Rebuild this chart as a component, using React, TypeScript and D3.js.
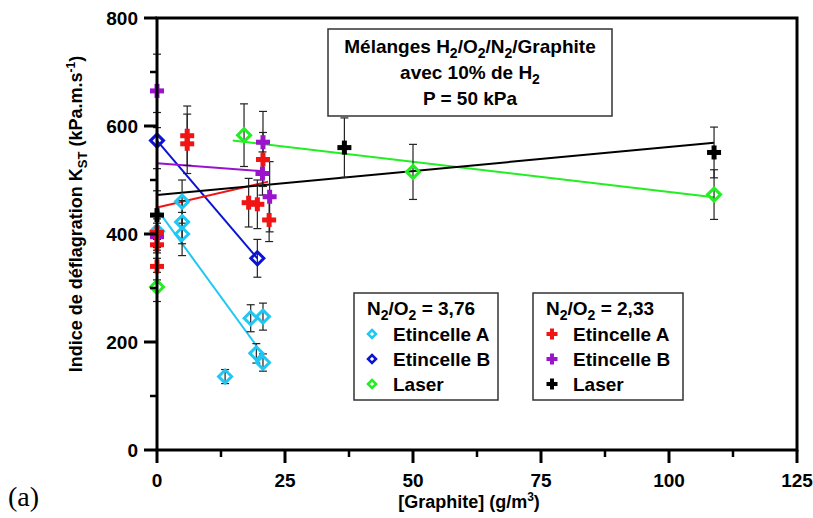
import React from "react";
import * as d3 from "d3";

// ---- Data ----
// N2/O2 = 3.76
const etA376X = [0, 4.9, 4.9, 4.9, 13.3, 18.3, 19.4, 20.7, 20.7];
const etA376Y = [405, 460, 422, 400, 136, 244, 179, 247, 162];
const etA376E = [30, 40, 40, 40, 13, 25, 18, 25, 16];

const etB376X = [0, 19.6];
const etB376Y = [573, 355];
const etB376E = [52, 35];

const las376X = [0, 17.0, 50.0, 108.8];
const las376Y = [302, 583, 515, 473];
const las376E = [27, 58, 51, 46];

// N2/O2 = 2.33
const etA233X = [0, 0, 0, 5.9, 5.9, 17.9, 19.6, 20.7, 21.9];
const etA233Y = [403, 380, 340, 582, 567, 458, 455, 538, 426];
const etA233E = [25, 25, 25, 55, 55, 45, 45, 50, 40];

const etB233X = [0, 0, 20.7, 20.6, 22.0];
const etB233Y = [665, 395, 570, 512, 469];
const etB233E = [68, 25, 57, 40, 65];

const las233X = [0, 36.6, 108.8];
const las233Y = [435, 560, 551];
const las233E = [45, 55, 47];

// linear fits (end points)
const fitEtA376 = [[0, 446], [19.5, 192]];
const fitEtB376 = [[0, 573], [19.6, 355]];
const fitLas376 = [[14.8, 573], [108.8, 468]];
const fitEtA233 = [[0, 449], [21.7, 497]];
const fitEtB233 = [[0, 531], [21, 516]];
const fitLas233 = [[0, 472], [108.8, 569]];

const xTicks = [0, 25, 50, 75, 100, 125];
const xMinor = [12.5, 37.5, 62.5, 87.5, 112.5];
const yTicks = [0, 200, 400, 600, 800];
const yMinor = [100, 300, 500, 700];

const C_CYAN = "#1ec8f5";
const C_BLUE = "#0a14d2";
const C_GREEN = "#22ee22";
const C_RED = "#f01414";
const C_PURPLE = "#9a14cc";
const C_BLACK = "#000000";

const FONT = "'Liberation Sans', Arial, Helvetica, sans-serif";

const W = 813, H = 518;
const L = 157, R = 797, T = 18, B = 450;

const x = d3.scaleLinear().domain([0, 125]).range([L, R]);
const y = d3.scaleLinear().domain([0, 800]).range([B, T]);
const line = d3.line<number[]>().x((d) => x(d[0])).y((d) => y(d[1]));

type Series = { xs: number[]; ys: number[]; es: number[]; color: string; kind: "diamond" | "plus" };

const series: Series[] = [
  { xs: las376X, ys: las376Y, es: las376E, color: C_GREEN, kind: "diamond" },
  { xs: etB376X, ys: etB376Y, es: etB376E, color: C_BLUE, kind: "diamond" },
  { xs: etA376X, ys: etA376Y, es: etA376E, color: C_CYAN, kind: "diamond" },
  { xs: etB233X, ys: etB233Y, es: etB233E, color: C_PURPLE, kind: "plus" },
  { xs: etA233X, ys: etA233Y, es: etA233E, color: C_RED, kind: "plus" },
  { xs: las233X, ys: las233Y, es: las233E, color: C_BLACK, kind: "plus" },
];

const fits: [number[][], string][] = [
  [fitEtA376, C_CYAN],
  [fitEtB376, C_BLUE],
  [fitLas376, C_GREEN],
  [fitEtA233, C_RED],
  [fitEtB233, C_PURPLE],
  [fitLas233, C_BLACK],
];

function Marker({ cx, cy, kind, color, s, sw }: { cx: number; cy: number; kind: string; color: string; s: number; sw: number }) {
  if (kind === "diamond") {
    const d = `M${cx},${cy - s}L${cx + s},${cy}L${cx},${cy + s}L${cx - s},${cy}Z`;
    return <path d={d} fill="none" stroke={color} strokeWidth={sw} />;
  }
  return (
    <g stroke={color} strokeWidth={sw}>
      <line x1={cx - s} x2={cx + s} y1={cy} y2={cy} />
      <line x1={cx} x2={cx} y1={cy - s} y2={cy + s} />
    </g>
  );
}

export default function App() {
  const fs = 19;
  return (
    <svg width={W} height={H} style={{ position: "absolute", left: 0, top: 0, background: "#fff" }} fontFamily={FONT}>
      <rect x={0} y={0} width={W} height={H} fill="#fff" />
      {/* fits */}
      {fits.map(([pts, c], i) => (
        <path key={"f" + i} d={line(pts) || ""} fill="none" stroke={c} strokeWidth={2} />
      ))}
      {/* error bars */}
      {series.map((s, si) =>
        s.xs.map((xv, i) => {
          const px = x(xv);
          const y1 = y(s.ys[i] + s.es[i]);
          const y2 = y(s.ys[i] - s.es[i]);
          return (
            <g key={`e${si}-${i}`} stroke="#222" strokeWidth={1.2}>
              <line x1={px} x2={px} y1={y1} y2={y2} />
              <line x1={px - 4} x2={px + 4} y1={y1} y2={y1} />
              <line x1={px - 4} x2={px + 4} y1={y2} y2={y2} />
            </g>
          );
        })
      )}
      {/* markers */}
      {series.map((s, si) =>
        s.xs.map((xv, i) => (
          <Marker key={`m${si}-${i}`} cx={x(xv)} cy={y(s.ys[i])} kind={s.kind} color={s.color}
            s={s.kind === "diamond" ? 6.5 : 7} sw={s.kind === "diamond" ? 3 : 5} />
        ))
      )}
      {/* frame */}
      <rect x={L} y={T} width={R - L} height={B - T} fill="none" stroke="#000" strokeWidth={3} />
      {/* x ticks */}
      {xTicks.map((t) => (
        <g key={"xt" + t}>
          <line x1={x(t)} x2={x(t)} y1={B} y2={B + 13} stroke="#000" strokeWidth={3} />
          <text x={x(t)} y={487} textAnchor="middle" fontSize={fs} fontWeight="bold">{t}</text>
        </g>
      ))}
      {xMinor.map((t) => (
        <line key={"xm" + t} x1={x(t)} x2={x(t)} y1={B} y2={B + 7} stroke="#000" strokeWidth={2.5} />
      ))}
      {/* y ticks */}
      {yTicks.map((t) => (
        <g key={"yt" + t}>
          <line x1={L - 13} x2={L} y1={y(t)} y2={y(t)} stroke="#000" strokeWidth={3} />
          <text x={138} y={y(t) + 7} textAnchor="end" fontSize={fs} fontWeight="bold">{t}</text>
        </g>
      ))}
      {yMinor.map((t) => (
        <line key={"ym" + t} x1={L - 7} x2={L} y1={y(t)} y2={y(t)} stroke="#000" strokeWidth={2.5} />
      ))}
      {/* axis titles */}
      <text x={(L + R) / 2 - 8} y={508} textAnchor="middle" fontSize={18} fontWeight="bold">
        [Graphite] (g/m<tspan dy={-7} fontSize={12}>3</tspan><tspan dy={7}>)</tspan>
      </text>
      <text transform="translate(82,214) rotate(-90)" textAnchor="middle" fontSize={18} fontWeight="bold">
        Indice de déflagration K<tspan dy={5} fontSize={13}>ST</tspan><tspan dy={-5}> (kPa.m.s</tspan>
        <tspan dy={-7} fontSize={12}>-1</tspan><tspan dy={7}>)</tspan>
      </text>
      <text x={8} y={506} fontFamily="'Liberation Serif', 'Times New Roman', serif" fontSize={28}>(a)</text>

      {/* title box */}
      <rect x={328} y={29} width={284} height={87} fill="#fff" stroke="#333" strokeWidth={1.5} />
      <g fontSize={fs} fontWeight="bold" textAnchor="middle">
        <text x={470} y={53}>
          Mélanges H<tspan dy={5} fontSize={14}>2</tspan><tspan dy={-5}>/O</tspan><tspan dy={5} fontSize={14}>2</tspan>
          <tspan dy={-5}>/N</tspan><tspan dy={5} fontSize={14}>2</tspan><tspan dy={-5}>/Graphite</tspan>
        </text>
        <text x={470} y={79}>
          avec 10% de H<tspan dy={5} fontSize={14}>2</tspan>
        </text>
        <text x={470} y={105}>P = 50 kPa</text>
      </g>

      {/* legend 1 */}
      <rect x={354} y={293} width={144} height={107} fill="#fff" stroke="#333" strokeWidth={1.5} />
      <g fontSize={fs} fontWeight="bold">
        <text x={367} y={315}>
          N<tspan dy={5} fontSize={14}>2</tspan><tspan dy={-5}>/O</tspan><tspan dy={5} fontSize={14}>2</tspan><tspan dy={-5}> = 3,76</tspan>
        </text>
        {[["Etincelle A", C_CYAN], ["Etincelle B", C_BLUE], ["Laser", C_GREEN]].map(([lab, c], i) => (
          <g key={"l1" + i}>
            <Marker cx={372} cy={334 + i * 25} kind="diamond" color={c} s={4} sw={2.5} />
            <text x={393} y={341 + i * 25}>{lab}</text>
          </g>
        ))}
      </g>

      {/* legend 2 */}
      <rect x={533} y={293} width={150} height={107} fill="#fff" stroke="#333" strokeWidth={1.5} />
      <g fontSize={fs} fontWeight="bold">
        <text x={546} y={315}>
          N<tspan dy={5} fontSize={14}>2</tspan><tspan dy={-5}>/O</tspan><tspan dy={5} fontSize={14}>2</tspan><tspan dy={-5}> = 2,33</tspan>
        </text>
        {[["Etincelle A", C_RED], ["Etincelle B", C_PURPLE], ["Laser", C_BLACK]].map(([lab, c], i) => (
          <g key={"l2" + i}>
            <Marker cx={552} cy={334 + i * 25} kind="plus" color={c} s={5.5} sw={4} />
            <text x={573} y={341 + i * 25}>{lab}</text>
          </g>
        ))}
      </g>
    </svg>
  );
}
